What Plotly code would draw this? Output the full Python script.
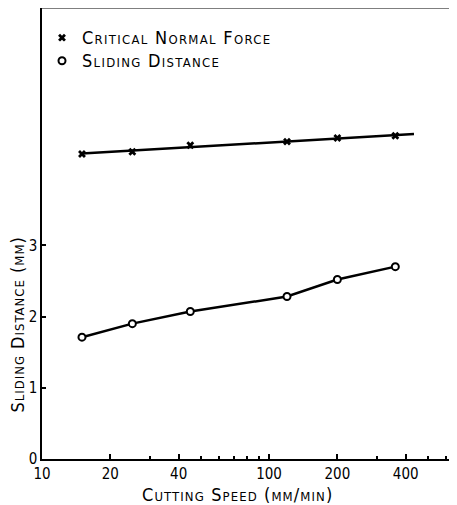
import numpy as np
import plotly.graph_objects as go

# ---- data ----
speed = [15, 25, 45, 120, 200, 360]                      # cutting speed (mm/min)
sliding_distance = [1.71, 1.90, 2.07, 2.28, 2.52, 2.70]   # mm (left axis)
critical_force = [2.71, 2.74, 2.83, 2.88, 2.93, 2.96]     # right axis (labels cut off)
fit_end_speed = 435                                       # fitted line drawn up to here

x_tick_vals = [10, 20, 40, 100, 200, 400]
x_tick_text = ["10", "20", "40", "100", "200", "400"]
x_minor_vals = [30, 50, 60, 70, 80, 90, 300, 500, 600]
y_tick_vals = [0, 1, 2, 3]
y_tick_text = ["0", "1", "2", "3"]
y2_tick_vals = [1, 2, 3]

x_title = "Cutting Speed (mm/min)"
y_title = "Sliding Distance (mm)"

FONT = "Liberation Sans Narrow, DejaVu Sans Condensed, Liberation Sans, sans-serif"


def sc(t, sp=1.2, size=None):
    st = f"letter-spacing:{sp}px"
    if size:
        st += f";font-size:{size}px"
    return f'<span style="{st}">{t}</span>'


# least-squares line for critical normal force (log x)
coef = np.polyfit(np.log10(speed), critical_force, 1)
fit_x = [speed[0], fit_end_speed]
fit_y = np.polyval(coef, np.log10(fit_x))

fig = go.Figure()
fig.add_trace(go.Scatter(x=fit_x, y=fit_y, mode="lines", yaxis="y2",
                         line=dict(color="black", width=2.5), showlegend=False,
                         hoverinfo="skip"))
fig.add_trace(go.Scatter(x=speed, y=critical_force, mode="markers", yaxis="y2",
                         marker=dict(symbol="x", size=7, color="black"),
                         name=sc("Critical Normal Force", 1.3, 18)))
fig.add_trace(go.Scatter(x=speed, y=sliding_distance, mode="lines",
                         line=dict(color="black", width=2.5), showlegend=False,
                         hoverinfo="skip"))
fig.add_trace(go.Scatter(x=speed, y=sliding_distance, mode="markers",
                         marker=dict(symbol="circle", size=7, color="white",
                                     line=dict(color="black", width=2)),
                         name=sc("Sliding Distance", 1.3, 18)))

fig.update_layout(
    width=449, height=497,
    margin=dict(l=34, r=0, t=0, b=46, autoexpand=False),
    paper_bgcolor="white", plot_bgcolor="white",
    font=dict(family=FONT, size=18, color="black", variant="small-caps"),
    showlegend=True,
    legend=dict(x=0.0, y=0.971, xanchor="left", yanchor="top",
                bgcolor="rgba(0,0,0,0)", tracegroupgap=0,
                font=dict(size=15.5, variant="small-caps")),
    xaxis=dict(
        type="log", range=[1, 2.828], automargin=False,
        tickmode="array", tickvals=x_tick_vals, ticktext=x_tick_text,
        ticks="inside", ticklen=5, tickwidth=1.5, tickcolor="black",
        tickfont=dict(size=15, variant="normal"),
        minor=dict(tickmode="array", tickvals=x_minor_vals, ticks="inside",
                   ticklen=3, tickwidth=1.5, tickcolor="black", showgrid=False),
        showline=True, linewidth=2, linecolor="black",
        showgrid=False, zeroline=False,
    ),
    yaxis=dict(
        range=[0, 6.33], automargin=False,
        tickmode="array", tickvals=y_tick_vals, ticktext=y_tick_text,
        ticks="inside", ticklen=4, tickwidth=1.5, tickcolor="black",
        tickfont=dict(size=15, variant="normal"),
        showline=True, linewidth=1.5, linecolor="black",
        showgrid=False, zeroline=False,
    ),
    yaxis2=dict(
        overlaying="y", side="right", range=[-1.5, 4.724], automargin=False,
        tickmode="array", tickvals=y2_tick_vals, showticklabels=False,
        ticks="inside", ticklen=4, tickwidth=3, tickcolor="black",
        showline=False, showgrid=False, zeroline=False,
    ),
    shapes=[dict(type="line", xref="paper", yref="paper", x0=0, x1=1, y0=1, y1=1,
                 line=dict(color="black", width=1))],
    annotations=[
        dict(text=sc(x_title, 1.1), xref="paper", yref="paper", x=0.472, y=-0.078,
             xanchor="center", yanchor="middle", showarrow=False,
             font=dict(size=18, variant="small-caps")),
        dict(text=sc(y_title, 1.0), xref="paper", yref="paper", x=-0.058, y=0.298,
             xanchor="center", yanchor="middle", textangle=-90, showarrow=False,
             font=dict(size=18, variant="small-caps")),
    ],
)

fig.write_html("out.html")
